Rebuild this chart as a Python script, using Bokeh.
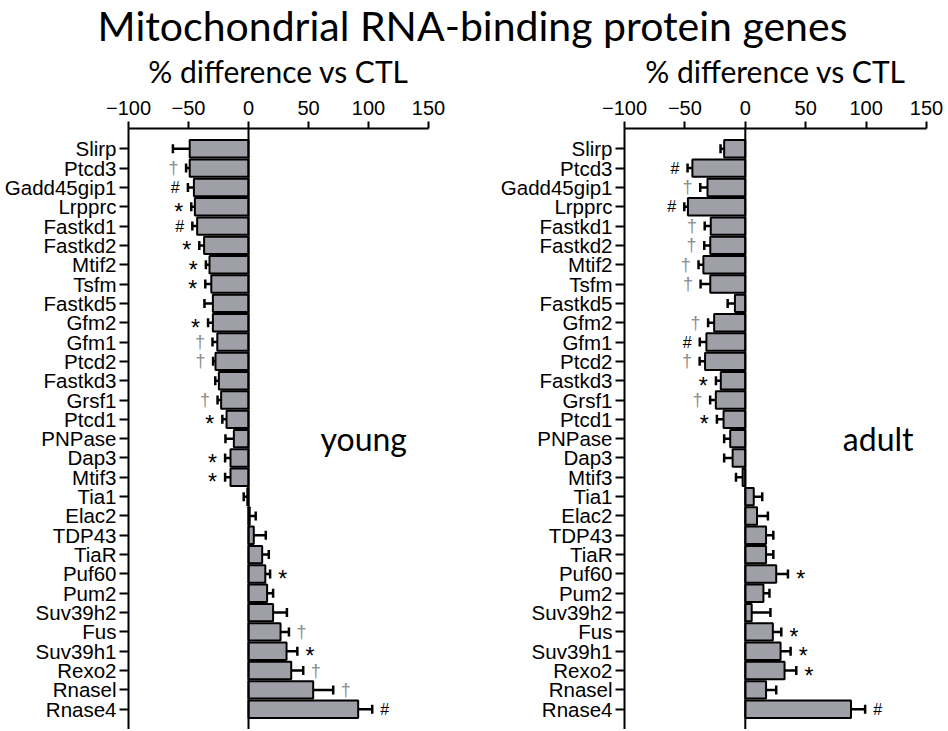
from bokeh.plotting import figure
from bokeh.models import Range1d, FactorRange, Span, Whisker, TeeHead, ColumnDataSource, FixedTicker
from bokeh.layouts import column, row
from bokeh.embed import file_html
from bokeh.resources import INLINE
from bokeh.core.properties import value
import numpy as np

TITLE = "Mitochondrial RNA-binding protein genes"
AXIS_TITLE = "% difference vs CTL"
x_ticks = [-100, -50, 0, 50, 100, 150]

genes = ["Slirp", "Ptcd3", "Gadd45gip1", "Lrpprc", "Fastkd1", "Fastkd2", "Mtif2", "Tsfm",
         "Fastkd5", "Gfm2", "Gfm1", "Ptcd2", "Fastkd3", "Grsf1", "Ptcd1", "PNPase", "Dap3",
         "Mtif3", "Tia1", "Elac2", "TDP43", "TiaR", "Puf60", "Pum2", "Suv39h2", "Fus",
         "Suv39h1", "Rexo2", "Rnasel", "Rnase4"]

young_val = [-49, -49, -45.5, -44.7, -42.8, -37, -32.5, -31, -29.7, -29.7, -26, -27.5, -24.7,
             -22.8, -18.3, -12.2, -15, -15, -1, 1, 4.4, 11.4, 14, 15.5, 20.5, 26.7, 31.7, 35.6,
             53.9, 91.4]
young_se = [14, 3, 5, 3, 4, 4, 3, 5, 7, 4, 4, 2, 3, 3, 3.5, 7, 4.5, 4.5, 3, 5, 10, 5.5, 4, 5,
            11.5, 7, 9, 10, 16.7, 11.7]
young_sig = ["", "†", "#", "*", "#", "*", "*", "*", "", "*", "†", "†", "", "†", "*", "", "*",
             "*", "", "", "", "", "*", "", "", "†", "*", "†", "†", "#"]

adult_val = [-17.5, -43.8, -31.3, -47.5, -28.6, -29, -34.7, -29, -8.6, -25.8, -32.2, -33.3,
             -20.3, -24.4, -18, -12.5, -10.5, -2.2, 7, 9.7, 17.2, 17.2, 25.6, 15, 5.3, 22.8,
             29.2, 32.5, 17.2, 87.5]
adult_se = [3, 4, 6, 3, 5, 5, 4, 8, 6, 5, 5.5, 4.5, 4, 4.7, 5.5, 5, 7, 5.5, 7, 9, 6, 6, 9.7,
            5, 15.5, 7, 8.3, 9.7, 8.4, 11.7]
adult_sig = ["", "#", "†", "#", "†", "†", "†", "†", "", "†", "#", "†", "*", "†", "*", "", "",
             "", "", "", "", "", "*", "", "", "*", "*", "*", "", "#"]

BAR_FILL = "#9f9fa7"
DAGGER_COLOR = "#8c8c8c"
SIG_OFFSET = 10.5
SIG_STYLE = {"*": ("23px", 5, "black"), "#": ("16px", 0, "black"),
             "†": ("18px", 0, DAGGER_COLOR), "": ("16px", 0, "black")}

TITLE_H = 49
PANEL_H = 680


def panel(vals, ses, sigs, group, label_x, width, bl, br):
    vals = np.array(vals, dtype=float)
    ses = np.array(ses, dtype=float)
    sgn = np.where(vals < 0, -1.0, 1.0)
    end = vals + sgn * ses
    mark_x = end + sgn * SIG_OFFSET
    src = ColumnDataSource(dict(gene=genes, val=vals, end=end, mx=mark_x, sig=sigs,
                                fs=[SIG_STYLE[s][0] for s in sigs],
                                dy=[SIG_STYLE[s][1] for s in sigs],
                                col=[SIG_STYLE[s][2] for s in sigs]))

    p = figure(width=width, height=PANEL_H, title=None,
               x_range=Range1d(-100, 150),
               y_range=FactorRange(factors=genes[::-1], range_padding=0.55,
                                   range_padding_units="absolute"),
               x_axis_location="above", output_backend="svg", toolbar_location=None,
               min_border_left=bl, min_border_right=br, min_border_top=0, min_border_bottom=0)
    p.outline_line_color = None
    p.grid.visible = False

    p.hbar(y="gene", left=0, right="val", height=0.9, source=src,
           fill_color=BAR_FILL, line_color="black", line_width=2)
    p.add_layout(Span(location=0, dimension="height", line_color="black", line_width=2))
    p.add_layout(Whisker(source=src, base="gene", lower="val", upper="end", dimension="width",
                         line_color="black", line_width=2.5, lower_head=None,
                         upper_head=TeeHead(size=9, line_width=2.5, line_color="black")))
    p.text(x="mx", y="gene", text="sig", source=src, text_color="col",
           text_font=value("Liberation Sans"), text_font_size="fs", y_offset="dy",
           text_align="center", text_baseline="middle")
    p.text(x=[label_x], y=["PNPase"], text=[group], text_font=value("Lato"),
           text_font_size="32px", text_align="center", text_baseline="middle",
           text_color="black")

    xa = p.xaxis[0]
    xa.ticker = FixedTicker(ticks=x_ticks)
    xa.minor_tick_line_color = None
    xa.major_tick_out = 7
    xa.major_tick_in = 0
    xa.axis_line_width = 2
    xa.major_tick_line_width = 2
    xa.major_label_text_font = "Liberation Sans"
    xa.major_label_text_font_size = "20px"
    xa.major_label_text_color = "black"
    xa.major_label_standoff = 7
    xa.axis_label = AXIS_TITLE
    xa.axis_label_text_font = "Lato"
    xa.axis_label_text_font_size = "30px"
    xa.axis_label_text_font_style = "normal"
    xa.axis_label_text_color = "black"
    xa.axis_label_standoff = 9

    ya = p.yaxis[0]
    ya.major_tick_out = 9
    ya.major_tick_in = 0
    ya.axis_line_width = 2
    ya.major_tick_line_width = 2
    ya.major_label_text_font = "Liberation Sans"
    ya.major_label_text_font_size = "20.5px"
    ya.major_label_text_color = "black"
    ya.major_label_standoff = 3
    return p


left = panel(young_val, young_se, young_sig, "young", 96, 480, 128, 52)
right = panel(adult_val, adult_se, adult_sig, "adult", 110, 464, 144, 18)

t = figure(width=944, height=TITLE_H, title=None, x_range=Range1d(-1, 1), y_range=Range1d(-1, 1),
           output_backend="svg", toolbar_location=None,
           min_border_left=0, min_border_right=0, min_border_top=0, min_border_bottom=0)
t.axis.visible = False
t.grid.visible = False
t.outline_line_color = None
t.text(x=[0], y=[0], text=[TITLE], text_font=value("Lato"), text_font_size="41px",
       text_align="center", text_baseline="middle", text_color="black")

layout = column(t, row(left, right))
open("out.html", "w").write(file_html(layout, INLINE))
